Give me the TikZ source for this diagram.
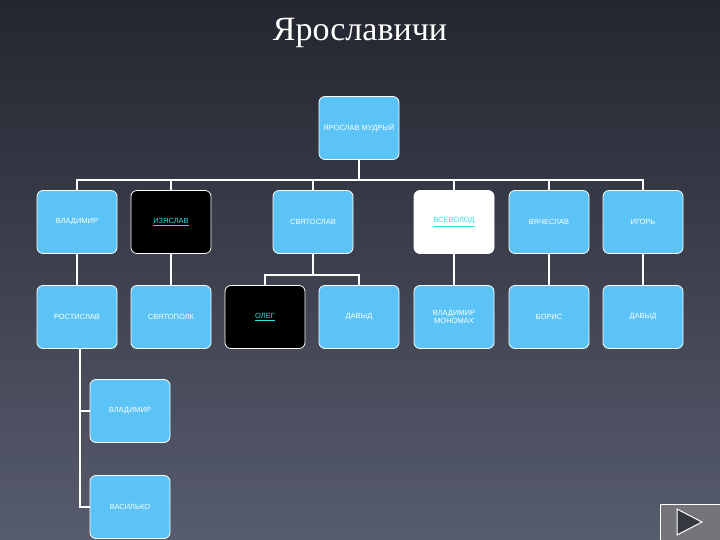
\documentclass[tikz,border=0pt]{standalone}
\usepackage{fontspec}
\setmainfont{Liberation Serif}
\newfontfamily\boxfont{Liberation Sans}
\definecolor{bgtop}{HTML}{23262F}
\definecolor{bgbot}{HTML}{575C6E}
\definecolor{boxc}{HTML}{5BC3F5}
\definecolor{cyanu}{HTML}{33E0E0}
\tikzset{x=1pt,y=-1pt,
 box/.style={draw=white,line width=0.8pt,fill=boxc,rounded corners=6pt,minimum width=80pt,minimum height=63pt,inner sep=0pt,font=\boxfont\fontsize{7.5}{8.5}\selectfont,text=white,align=center},
 dark/.style={box,fill=black,text=cyanu},
 light/.style={box,fill=white,text=cyanu},
 con/.style={draw=white,line width=1.6pt}}
\begin{document}
\begin{tikzpicture}
\shade[top color=bgtop,bottom color=bgbot] (0,0) rectangle (720,540);
\useasboundingbox (0,0) rectangle (720,540);
\node[text=white,font=\fontsize{34}{40}\selectfont] (title) at (360,33) {Ярославичи};
\node[box] (yar) at (359,128) {ЯРОСЛАВ МУДРЫЙ};
\node[box] (vl) at (77,222) {ВЛАДИМИР};
\node[dark] (iz) at (171,222) {\underline{ИЗЯСЛАВ}};
\node[box] (sv) at (313,222) {СВЯТОСЛАВ};
\node[light] (vs) at (454,222) {\underline{ВСЕВОЛОД}};
\node[box] (vya) at (549,222) {ВЯЧЕСЛАВ};
\node[box] (ig) at (643,222) {ИГОРЬ};
\node[box] (ro) at (77,317) {РОСТИСЛАВ};
\node[box] (sp) at (171,317) {СВЯТОПОЛК};
\node[dark] (ol) at (265,317) {\underline{ОЛЕГ}};
\node[box] (da) at (359,317) {ДАВЫД};
\node[box] (mo) at (454,317) {ВЛАДИМИР\\МОНОМАХ};
\node[box] (bo) at (549,317) {БОРИС};
\node[box] (da2) at (643,317) {ДАВЫД};
\node[box] (vl2) at (130,411) {ВЛАДИМИР};
\node[box] (va) at (130,507) {ВАСИЛЬКО};
\coordinate (bus) at (359,180);
\draw[con] (yar.south) -- (bus);
\draw[con] (vl.north) |- (ig.north |- bus) -- (ig.north);
\foreach \n in {iz,sv,vs,vya} \draw[con] (\n.north) -- (\n.north |- bus);
\draw[con] (vl) -- (ro);
\draw[con] (iz) -- (sp);
\coordinate (b2) at (313,275);
\draw[con] (sv.south) -- (b2);
\draw[con] (ol.north) |- (b2) -| (da.north);
\draw[con] (vs) -- (mo);
\draw[con] (vya) -- (bo);
\draw[con] (ig) -- (da2);
\coordinate (r1) at (80,349);
\coordinate (r2) at (80,411);
\draw[con] (r1) |- (vl2.west);
\draw[con] (r2) |- (va.west);
\node[draw=white,fill=gray!70!bgbot,minimum width=60pt,minimum height=36pt,inner sep=0pt,anchor=north west] (play) at (660,504) {};
\draw[white,fill=bgtop!80!gray,line width=1pt] (677,509) -- (677,535) -- (702,522) -- cycle;
\end{tikzpicture}
\end{document}
